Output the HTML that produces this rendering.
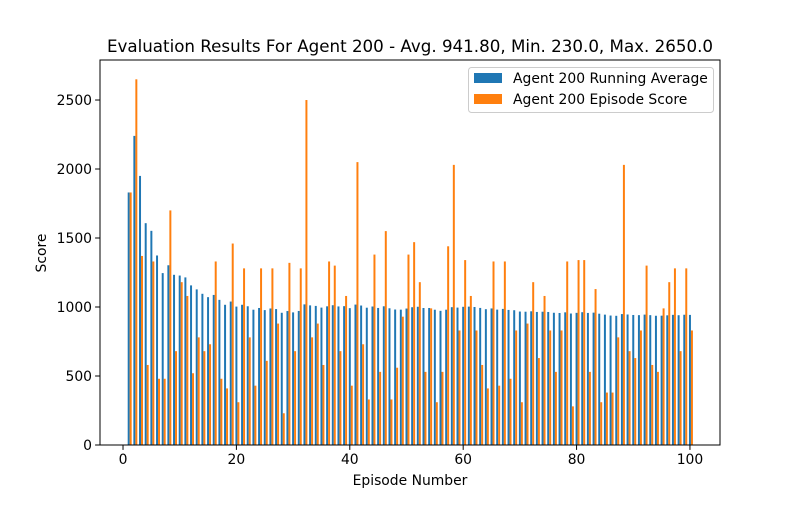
<!DOCTYPE html>
<html><head><meta charset="utf-8"><style>
body{margin:0;background:#fff;}
svg text{font-family:"DejaVu Sans","Liberation Sans",sans-serif;fill:#000;}
</style></head><body>
<svg id="chart" width="800" height="500" xmlns="http://www.w3.org/2000/svg">
<rect width="800" height="500" fill="#fff"/>
<g id="bars"></g>
<g id="axes"></g>
<text x="410" y="52" font-size="16.7" text-anchor="middle">Evaluation Results For Agent 200 - Avg. 941.80, Min. 230.0, Max. 2650.0</text>
<text x="410" y="485" font-size="13.9" text-anchor="middle">Episode Number</text>
<text x="46" y="253" font-size="13.9" text-anchor="middle" transform="rotate(-90 46 253)">Score</text>
<g>
<rect x="468.5" y="67.5" width="245" height="45" rx="3" fill="#fff" fill-opacity="0.8" stroke="#ccc"/>
<rect x="474" y="73" width="28" height="10" fill="#1f77b4"/>
<text x="513" y="83" font-size="13.9">Agent 200 Running Average</text>
<rect x="474" y="94" width="28" height="10" fill="#ff7f0e"/>
<text x="513" y="104" font-size="13.9">Agent 200 Episode Score</text>
</g>
</svg>
<script>
const scores = [1830,2650,1370,580,1330,480,480,1700,680,1180,
1080,520,780,680,730,1330,480,410,1460,310,
1280,780,430,1280,610,1280,880,230,1320,680,
1280,2500,780,880,580,1330,1300,680,1080,430,
2050,730,330,1380,530,1550,330,560,930,1380,
1470,1180,530,990,310,530,1440,2030,830,1340,
1080,830,580,410,1330,430,1330,480,830,310,
880,1180,630,1080,830,530,830,1330,280,1340,
1340,530,1130,310,380,380,780,2030,680,630,
830,1300,580,530,990,1180,1280,680,1280,830];
const xTicks = [0,20,40,60,80,100];
const yTicks = [0,500,1000,1500,2000,2500];
const runningAvg = [];
let sum = 0;
scores.forEach((s,i)=>{sum+=s;runningAvg.push(sum/(i+1));});

const L=100,R=720,T=60,B=445;
const xMin=-4.06,xMax=105.3,yMin=0,yMax=2790;
const X=v=>L+(v-xMin)/(xMax-xMin)*(R-L);
const Y=v=>B-(v-yMin)/(yMax-yMin)*(B-T);
const NS="http://www.w3.org/2000/svg";
const bars=document.getElementById('bars');
const axes=document.getElementById('axes');
function mk(tag,attrs,parent){const e=document.createElementNS(NS,tag);for(const k in attrs)e.setAttribute(k,attrs[k]);parent.appendChild(e);return e;}
const w=0.35;
scores.forEach((s,i)=>{
  const ep=i+1;
  const a=runningAvg[i];
  const b=mk('rect',{x:X(ep-w/2),y:Y(a),width:X(ep+w/2)-X(ep-w/2),height:Y(0)-Y(a),fill:'#1f77b4'},bars);
  
  
  const o=mk('rect',{x:X(ep+w/2),y:Y(s),width:X(ep+1.5*w)-X(ep+w/2),height:Y(0)-Y(s),fill:'#ff7f0e'},bars);
  
  
});
const frame=mk('rect',{x:L,y:T,width:R-L,height:B-T,fill:'none',stroke:'#000','stroke-width':1},axes);


xTicks.forEach(t=>{
  const x=X(t);
  const tk=mk('line',{x1:x,x2:x,y1:B,y2:B+4.9,stroke:'#000'},axes);
  
  
  const lb=mk('text',{x:x,y:B+19,'font-size':13.9,'text-anchor':'middle'},axes);
  lb.textContent=t;
  
  
});
yTicks.forEach(t=>{
  const y=Y(t);
  const tk=mk('line',{x1:L-4.9,x2:L,y1:y,y2:y,stroke:'#000'},axes);
  
  
  const lb=mk('text',{x:L-8,y:y+5,'font-size':13.9,'text-anchor':'end'},axes);
  lb.textContent=t;
  
  
});
</script>
</body></html>
